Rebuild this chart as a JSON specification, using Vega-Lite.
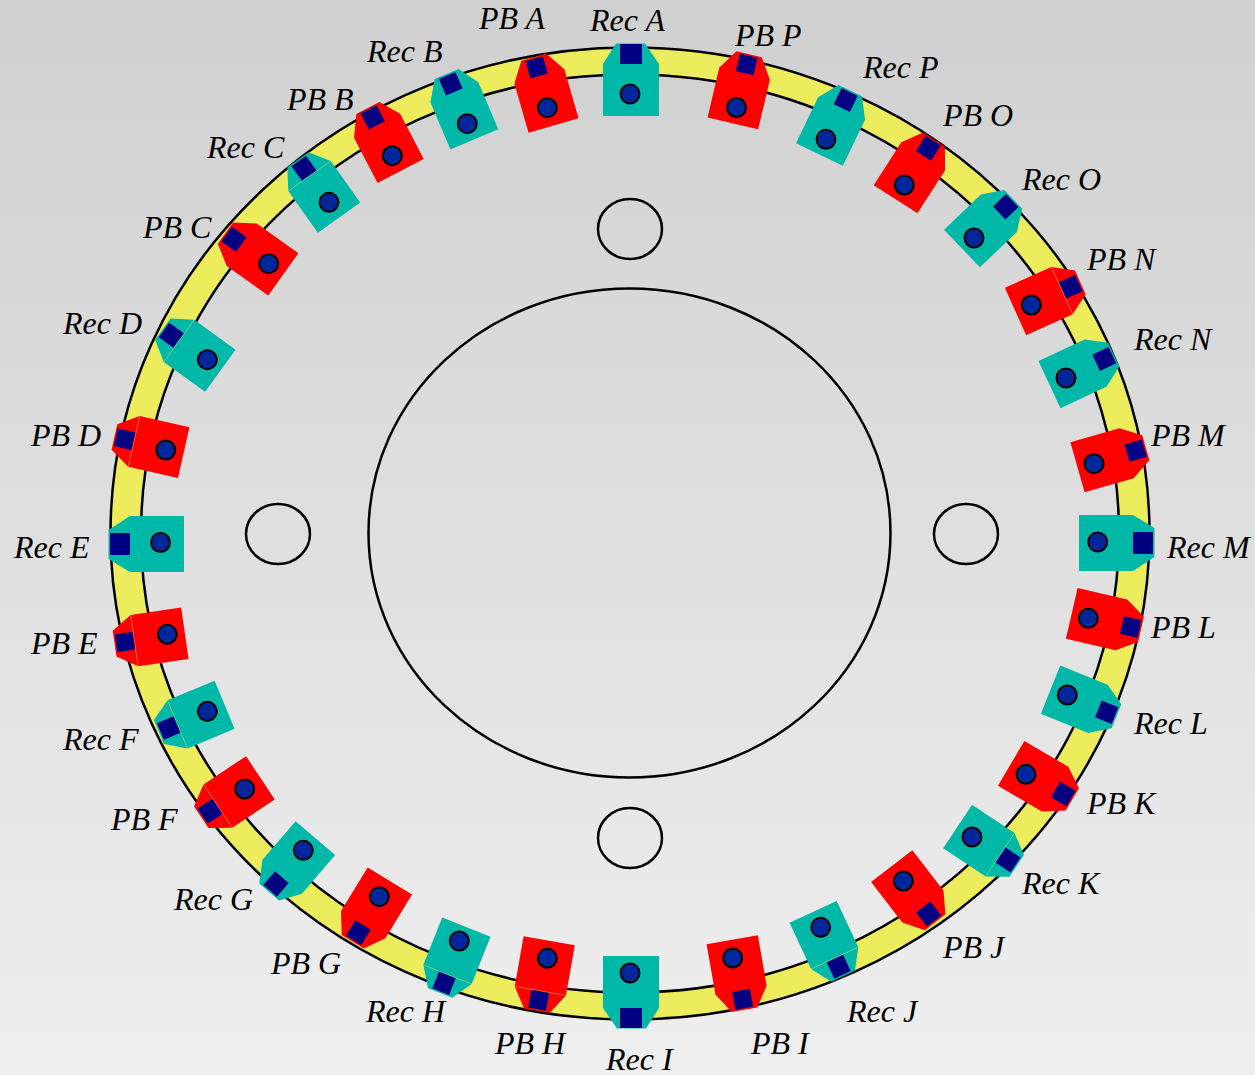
{"$schema":"https://vega.github.io/schema/vega-lite/v6.json","width":1255,"height":1075,"padding":0,"autosize":{"type":"none"},"config":{"view":{"stroke":null},"axis":{"domain":false}},"resolve":{"scale":{"shape":"independent"}},"datasets":{"stations":[
{"name":"Rec A","type":"Rec","orient":"vertical","x":630,"y":94,"sx":631,"sy":54,"angle":0,"lx":590,"ly":31,"seam":false},
{"name":"PB P","type":"PB","orient":"oblique","x":736.5,"y":107.5,"sx":746.7,"sy":64.5,"angle":13.2,"lx":735,"ly":46,"seam":false},
{"name":"Rec P","type":"Rec","orient":"oblique","x":826,"y":139.3,"sx":845.7,"sy":100,"angle":25.7,"lx":863,"ly":78,"seam":false},
{"name":"PB O","type":"PB","orient":"oblique","x":904.3,"y":185,"sx":928.3,"sy":148.3,"angle":32.7,"lx":943,"ly":126,"seam":false},
{"name":"Rec O","type":"Rec","orient":"oblique","x":974,"y":238,"sx":1005.7,"sy":206.7,"angle":46.3,"lx":1022,"ly":190,"seam":false},
{"name":"PB N","type":"PB","orient":"oblique","x":1031.3,"y":305,"sx":1070.7,"sy":286.7,"angle":65.8,"lx":1087,"ly":270,"seam":true},
{"name":"Rec N","type":"Rec","orient":"oblique","x":1066,"y":378,"sx":1104.3,"sy":359,"angle":64.9,"lx":1134,"ly":350,"seam":false},
{"name":"PB M","type":"PB","orient":"oblique","x":1094,"y":463.7,"sx":1135.7,"sy":450.7,"angle":74.2,"lx":1151,"ly":446,"seam":false},
{"name":"Rec M","type":"Rec","orient":"horizontal","x":1097.7,"y":542,"sx":1143,"sy":543,"angle":90,"lx":1167,"ly":558,"seam":false},
{"name":"PB L","type":"PB","orient":"oblique","x":1088.3,"y":618.3,"sx":1130.7,"sy":627,"angle":103,"lx":1151,"ly":638,"seam":false},
{"name":"Rec L","type":"Rec","orient":"oblique","x":1067.3,"y":695,"sx":1106.7,"sy":712.3,"angle":111.9,"lx":1134,"ly":734,"seam":false},
{"name":"PB K","type":"PB","orient":"oblique","x":1026,"y":774.3,"sx":1063.3,"sy":794,"angle":120.5,"lx":1087,"ly":814,"seam":false},
{"name":"Rec K","type":"Rec","orient":"oblique","x":972,"y":837,"sx":1008,"sy":860,"angle":123.6,"lx":1022,"ly":894,"seam":true},
{"name":"PB J","type":"PB","orient":"oblique","x":903.3,"y":881,"sx":928.7,"sy":914,"angle":142.3,"lx":943,"ly":958,"seam":false},
{"name":"Rec J","type":"Rec","orient":"oblique","x":820.7,"y":927.3,"sx":838.7,"sy":966.7,"angle":155,"lx":847,"ly":1022,"seam":true},
{"name":"PB I","type":"PB","orient":"oblique","x":732.7,"y":958,"sx":742.7,"sy":999.3,"angle":170,"lx":751,"ly":1054,"seam":false},
{"name":"Rec I","type":"Rec","orient":"vertical","x":630,"y":973,"sx":631,"sy":1018,"angle":180,"lx":606,"ly":1070,"seam":false},
{"name":"PB H","type":"PB","orient":"oblique","x":547.3,"y":958.3,"sx":538.7,"sy":1000.3,"angle":190,"lx":495,"ly":1054,"seam":true},
{"name":"Rec H","type":"Rec","orient":"oblique","x":459.3,"y":941,"sx":444,"sy":983.3,"angle":201.7,"lx":366,"ly":1022,"seam":true},
{"name":"PB G","type":"PB","orient":"oblique","x":379.3,"y":896.7,"sx":358.3,"sy":932.7,"angle":211.4,"lx":271,"ly":974,"seam":false},
{"name":"Rec G","type":"Rec","orient":"oblique","x":303.3,"y":850.3,"sx":276,"sy":884,"angle":220.6,"lx":174,"ly":910,"seam":false},
{"name":"PB F","type":"PB","orient":"oblique","x":244.7,"y":789,"sx":210,"sy":811.3,"angle":236.4,"lx":111,"ly":830,"seam":true},
{"name":"Rec F","type":"Rec","orient":"oblique","x":207.3,"y":711.3,"sx":168.7,"sy":728,"angle":247.5,"lx":63,"ly":750,"seam":true},
{"name":"PB E","type":"PB","orient":"oblique","x":167.3,"y":634.3,"sx":125,"sy":642,"angle":261.7,"lx":31,"ly":654,"seam":true},
{"name":"Rec E","type":"Rec","orient":"horizontal","x":160.5,"y":542.5,"sx":120,"sy":544,"angle":270,"lx":14,"ly":558,"seam":false},
{"name":"PB D","type":"PB","orient":"oblique","x":165.7,"y":450,"sx":124.7,"sy":439.3,"angle":282.7,"lx":31,"ly":446,"seam":true},
{"name":"Rec D","type":"Rec","orient":"oblique","x":207.3,"y":359.7,"sx":171.3,"sy":335.3,"angle":305.9,"lx":63,"ly":334,"seam":true},
{"name":"PB C","type":"PB","orient":"oblique","x":268.7,"y":263.7,"sx":234,"sy":239.3,"angle":305.4,"lx":143,"ly":238,"seam":false},
{"name":"Rec C","type":"Rec","orient":"oblique","x":329,"y":202.3,"sx":304,"sy":168.3,"angle":324.6,"lx":207,"ly":158,"seam":true},
{"name":"PB B","type":"PB","orient":"oblique","x":392.3,"y":155.7,"sx":372.7,"sy":117.3,"angle":332.5,"lx":287,"ly":110,"seam":false},
{"name":"Rec B","type":"Rec","orient":"oblique","x":467.3,"y":123.7,"sx":450.7,"sy":83.7,"angle":337,"lx":367,"ly":62,"seam":false},
{"name":"PB A","type":"PB","orient":"oblique","x":547.3,"y":107.7,"sx":536.7,"sy":67.3,"angle":343.8,"lx":479,"ly":29,"seam":false}
]},
"layer":[
{"data":{"values":[{"x":0,"x2":1255,"y":0,"y2":1075}]},"mark":{"type":"rect","color":{"gradient":"linear","x1":0,"y1":0,"x2":0,"y2":1,"stops":[{"offset":0,"color":"#d0d0d0"},{"offset":1,"color":"#efefef"}]}},"encoding":{"x":{"field":"x","type":"quantitative","scale":{"domain":[0,1255],"nice":false,"zero":false},"axis":null},"x2":{"field":"x2"},"y":{"field":"y","type":"quantitative","scale":{"domain":[1075,0],"nice":false,"zero":false},"axis":null},"y2":{"field":"y2"}}},
{"data":{"values":[{"x":630,"y":533.5}]},"mark":{"type":"point","filled":true,"size":4,"opacity":1,"fill":"#ecec5c","stroke":"#000000","strokeWidth":2.5,"shape":"M-519.5,0 A519.5,486 0 1,1 519.5,0 A519.5,486 0 1,1 -519.5,0 Z M-489,0 A489,459 0 1,0 489,0 A489,459 0 1,0 -489,0 Z"},"encoding":{"x":{"field":"x","type":"quantitative","axis":null},"y":{"field":"y","type":"quantitative","axis":null}}},
{"data":{"values":[{"x":629.5,"y":533}]},"mark":{"type":"point","filled":false,"size":4,"opacity":1,"stroke":"#000000","strokeWidth":2.5,"shape":"M-261,0 A261,244.5 0 1,1 261,0 A261,244.5 0 1,1 -261,0 Z"},"encoding":{"x":{"field":"x","type":"quantitative","axis":null},"y":{"field":"y","type":"quantitative","axis":null}}},
{"data":{"values":[{"x":630,"y":229},{"x":630,"y":838},{"x":278,"y":534},{"x":966,"y":534}]},"mark":{"type":"point","filled":false,"size":4,"opacity":1,"stroke":"#000000","strokeWidth":2.5,"shape":"M-32,0 A32,30 0 1,1 32,0 A32,30 0 1,1 -32,0 Z"},"encoding":{"x":{"field":"x","type":"quantitative","axis":null},"y":{"field":"y","type":"quantitative","axis":null}}},
{"data":{"name":"stations"},"mark":{"type":"point","filled":true,"size":4,"opacity":1,"strokeWidth":0},"encoding":{"x":{"field":"sx","type":"quantitative","axis":null},"y":{"field":"sy","type":"quantitative","axis":null},"angle":{"field":"angle","type":"quantitative","scale":null},"shape":{"field":"orient","type":"nominal","scale":{"domain":["vertical","horizontal","oblique"],"range":["M-28,62 L-28,10 L-15,-10.5 L14,-10.5 L28,10 L28,62 Z","M-28,64 L-28,10 L-15,-11.5 L14,-11.5 L28,10 L28,64 Z","M-26,60.5 L-26,9.5 L-13,-10.5 L13,-10.5 L26,9.5 L26,60.5 Z"]},"legend":null},"fill":{"field":"type","type":"nominal","scale":{"domain":["Rec","PB"],"range":["#00b8a8","#ff0000"]},"legend":null}}},
{"data":{"name":"stations"},"transform":[{"filter":"datum.seam"}],"mark":{"type":"point","filled":false,"size":4,"opacity":0.7,"stroke":"#ecec5c","strokeWidth":0.6,"shape":"M-26,9.5 L26,9.5"},"encoding":{"x":{"field":"sx","type":"quantitative","axis":null},"y":{"field":"sy","type":"quantitative","axis":null},"angle":{"field":"angle","type":"quantitative","scale":null}}},
{"data":{"name":"stations"},"mark":{"type":"point","filled":true,"size":4,"opacity":1,"strokeWidth":0,"fill":"#000080"},"encoding":{"x":{"field":"sx","type":"quantitative","axis":null},"y":{"field":"sy","type":"quantitative","axis":null},"angle":{"field":"angle","type":"quantitative","scale":null},"shape":{"field":"orient","type":"nominal","scale":{"domain":["vertical","horizontal","oblique"],"range":["M-11,-10 L11,-10 L11,10 L-11,10 Z","M-11,-10 L11,-10 L11,10 L-11,10 Z","M-9,-9 L9,-9 L9,9 L-9,9 Z"]},"legend":null}}},
{"data":{"name":"stations"},"mark":{"type":"point","shape":"circle","filled":true,"size":360,"opacity":1,"fill":"#00269b","stroke":"#000000","strokeWidth":2},"encoding":{"x":{"field":"x","type":"quantitative","axis":null},"y":{"field":"y","type":"quantitative","axis":null}}},
{"data":{"name":"stations"},"mark":{"type":"text","font":"Liberation Serif","fontStyle":"italic","fontSize":32,"align":"left","baseline":"alphabetic","color":"#000000"},"encoding":{"x":{"field":"lx","type":"quantitative","axis":null},"y":{"field":"ly","type":"quantitative","axis":null},"text":{"field":"name","type":"nominal"}}}
]}
